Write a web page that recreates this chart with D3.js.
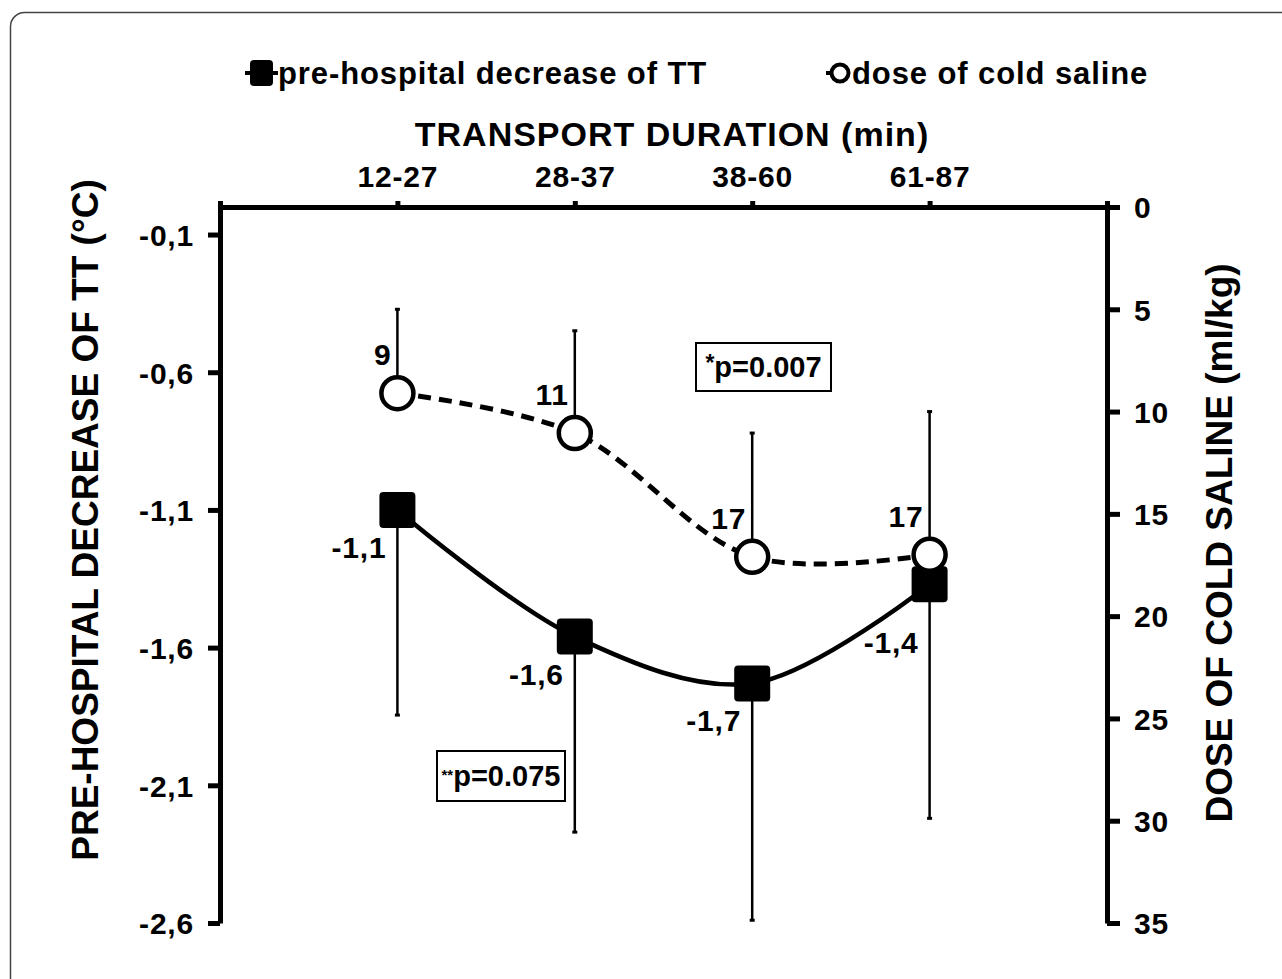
<!DOCTYPE html>
<html>
<head>
<meta charset="utf-8">
<script src="https://cdn.jsdelivr.net/npm/d3@7"></script>
<style>
  body { margin: 0; background: #fff; }
  text { font-family: "Liberation Sans", Arial, sans-serif; font-weight: bold; fill: #000; }
</style>
</head>
<body>
<svg id="chart" width="1282" height="979"></svg>
<script>
// categories (transport duration)
const categories = ["12-27", "28-37", "38-60", "61-87"];

// pre-hospital decrease of TT (°C), mean and lower end of error bar
const ttMean = [-1.10, -1.56, -1.73, -1.37];
const ttLower = [-1.845, -2.27, -2.59, -2.22];
const ttLabels = ["-1,1", "-1,6", "-1,7", "-1,4"];

// dose of cold saline (ml/kg), mean and upper end of error bar
const salineMean = [9.1, 11.05, 17.1, 17.0];
const salineUpper = [5.0, 6.05, 11.05, 10.0];
const salineLabels = ["9", "11", "17", "17"];

// tick values
const leftTicks = [-0.1, -0.6, -1.1, -1.6, -2.1, -2.6];
const rightTicks = [0, 5, 10, 15, 20, 25, 30, 35];

const svg = d3.select("#chart");

// outer frame
svg.append("rect")
    .attr("x", 10.5).attr("y", 12.5)
    .attr("width", 1300).attr("height", 1000)
    .attr("rx", 14)
    .attr("fill", "none")
    .attr("stroke", "#444")
    .attr("stroke-width", 1.5);

const plotLeft = 220, plotRight = 1107, plotTop = 207, plotBottom = 923;

const x = d3.scalePoint().domain(categories).range([plotLeft, plotRight]).padding(1);
const yLeft = d3.scaleLinear().domain([0, -2.6]).range([plotTop, plotBottom]);
const yRight = d3.scaleLinear().domain([0, 35]).range([plotTop, plotBottom]);

const locale = d3.formatLocale({ decimal: ",", thousands: ".", grouping: [3], currency: ["", ""], minus: "-" });
const fmt = locale.format(".1f");

// axes
const axisStyle = g => {
    g.select(".domain").attr("stroke", "#000").attr("stroke-width", 5);
    g.selectAll(".tick line").attr("stroke", "#000").attr("stroke-width", 5);
    g.selectAll(".tick text")
        .style("font-size", "30px")
        .style("letter-spacing", "0.8px")
        .style("font-family", "'Liberation Sans', Arial, sans-serif")
        .style("font-weight", "bold");
};

svg.append("g")
    .attr("transform", `translate(0,${plotTop})`)
    .call(d3.axisTop(x).tickSizeInner(6).tickSizeOuter(6).tickPadding(14))
    .call(axisStyle);

svg.append("g")
    .attr("transform", `translate(${plotLeft},0)`)
    .call(d3.axisLeft(yLeft).tickValues(leftTicks).tickFormat(fmt).tickSizeInner(12).tickSizeOuter(0).tickPadding(14))
    .call(axisStyle)
    .call(g => g.selectAll(".tick text").attr("dy", "0.36em"));

svg.append("g")
    .attr("transform", `translate(${plotRight},0)`)
    .call(d3.axisRight(yRight).tickValues(rightTicks).tickSizeInner(13).tickSizeOuter(0).tickPadding(14))
    .call(axisStyle)
    .call(g => g.selectAll(".tick text").attr("dy", "0.36em"));

// titles
svg.append("text")
    .attr("x", 672).attr("y", 146)
    .attr("text-anchor", "middle")
    .style("font-size", "34px")
    .style("letter-spacing", "1px")
    .text("TRANSPORT DURATION (min)");

svg.append("text")
    .attr("transform", "translate(98,520) rotate(-90)")
    .attr("text-anchor", "middle")
    .style("font-size", "37px")
    .text("PRE-HOSPITAL DECREASE OF TT (°C)");

svg.append("text")
    .attr("transform", "translate(1232,543) rotate(-90)")
    .attr("text-anchor", "middle")
    .style("font-size", "37px")
    .text("DOSE OF COLD SALINE (ml/kg)");

// legend
const legend = svg.append("g");
legend.append("line").attr("x1", 245).attr("x2", 278).attr("y1", 73).attr("y2", 73)
    .attr("stroke", "#000").attr("stroke-width", 4);
legend.append("rect").attr("x", 250).attr("y", 60).attr("width", 23).attr("height", 26).attr("rx", 4)
    .attr("fill", "#000");
legend.append("text").attr("x", 278).attr("y", 84)
    .style("font-size", "31px").style("letter-spacing", "0.9px")
    .text("pre-hospital decrease of TT");
legend.append("line").attr("x1", 826).attr("x2", 850).attr("y1", 73).attr("y2", 73)
    .attr("stroke", "#000").attr("stroke-width", 4).attr("stroke-dasharray", "4,3");
legend.append("circle").attr("cx", 840).attr("cy", 73).attr("r", 8.5)
    .attr("fill", "#fff").attr("stroke", "#000").attr("stroke-width", 4);
legend.append("text").attr("x", 852).attr("y", 84)
    .style("font-size", "31px").style("letter-spacing", "0.9px")
    .text("dose of cold saline");

// lines
const ttLine = d3.line()
    .x((d, i) => x(categories[i]))
    .y(d => yLeft(d))
    .curve(d3.curveCatmullRom.alpha(0.5));
const salineLine = d3.line()
    .x((d, i) => x(categories[i]))
    .y(d => yRight(d))
    .curve(d3.curveCatmullRom.alpha(0.5));

svg.append("path")
    .attr("d", salineLine(salineMean))
    .attr("fill", "none")
    .attr("stroke", "#000")
    .attr("stroke-width", 5)
    .attr("stroke-dasharray", "13,8");

svg.append("path")
    .attr("d", ttLine(ttMean))
    .attr("fill", "none")
    .attr("stroke", "#000")
    .attr("stroke-width", 4.5);

// error bars
const bars = svg.append("g").attr("stroke", "#000");
categories.forEach((c, i) => {
    const cx = x(c);
    bars.append("line").attr("x1", cx).attr("x2", cx)
        .attr("y1", yLeft(ttMean[i])).attr("y2", yLeft(ttLower[i]))
        .attr("stroke-width", 2.5);
    bars.append("line").attr("x1", cx - 2.5).attr("x2", cx + 2.5)
        .attr("y1", yLeft(ttLower[i])).attr("y2", yLeft(ttLower[i]))
        .attr("stroke-width", 3);
    bars.append("line").attr("x1", cx).attr("x2", cx)
        .attr("y1", yRight(salineMean[i])).attr("y2", yRight(salineUpper[i]))
        .attr("stroke-width", 2.5);
    bars.append("line").attr("x1", cx - 2.5).attr("x2", cx + 2.5)
        .attr("y1", yRight(salineUpper[i])).attr("y2", yRight(salineUpper[i]))
        .attr("stroke-width", 3);
});

// markers
svg.selectAll(".sq")
    .data(ttMean)
    .enter()
    .append("rect")
    .attr("class", "sq")
    .attr("x", (d, i) => x(categories[i]) - 18)
    .attr("y", d => yLeft(d) - 18)
    .attr("width", 36).attr("height", 36)
    .attr("rx", 4)
    .attr("fill", "#000");

svg.selectAll(".ci")
    .data(salineMean)
    .enter()
    .append("circle")
    .attr("class", "ci")
    .attr("cx", (d, i) => x(categories[i]))
    .attr("cy", d => yRight(d))
    .attr("r", 16)
    .attr("fill", "#fff")
    .attr("stroke", "#000")
    .attr("stroke-width", 4.5);

// value labels
svg.selectAll(".sl")
    .data(salineMean)
    .enter()
    .append("text")
    .attr("class", "sl")
    .attr("x", (d, i) => x(categories[i]) - 6)
    .attr("y", d => yRight(d) - 28)
    .attr("text-anchor", "end")
    .style("font-size", "30px")
    .style("letter-spacing", "0.8px")
    .text((d, i) => salineLabels[i]);

svg.selectAll(".tl")
    .data(ttMean)
    .enter()
    .append("text")
    .attr("class", "tl")
    .attr("x", (d, i) => x(categories[i]) - 11)
    .attr("y", (d, i) => yLeft(d) + (i === 3 ? 69 : 48))
    .attr("text-anchor", "end")
    .style("font-size", "30px")
    .style("letter-spacing", "0.8px")
    .text((d, i) => ttLabels[i]);

// p-value boxes
function pBox(bx, by, w, h, stars, starSize, rest) {
    svg.append("rect").attr("x", bx).attr("y", by).attr("width", w).attr("height", h)
        .attr("fill", "#fff").attr("stroke", "#000").attr("stroke-width", 2);
    const t = svg.append("text").attr("x", bx + w / 2).attr("y", by + h / 2 + 10)
        .attr("text-anchor", "middle").style("font-size", "29px");
    t.append("tspan").style("font-size", starSize).attr("dy", "-6").text(stars);
    t.append("tspan").attr("dy", "6").text(rest);
}
pBox(696, 343, 135, 48, "*", "23px", "p=0.007");
pBox(437, 751, 128, 50, "**", "15px", "p=0.075");
</script>
</body>
</html>
